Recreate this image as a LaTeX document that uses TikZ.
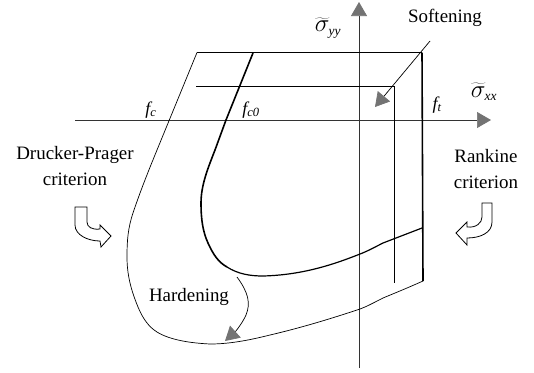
\documentclass[tikz,border=0pt]{standalone}
\usepackage{fontspec}
\setmainfont{Liberation Serif}
\usetikzlibrary{arrows.meta, calc}
\definecolor{tipgray}{gray}{0.45}
\begin{document}
\begin{tikzpicture}[x=1bp, y=-1bp, >={Triangle[length=14bp, width=16bp, fill=tipgray, color=tipgray]}, line width=0.7pt,
    rotulo/.style={font=\fontsize{19}{26.5}\selectfont, align=center, inner sep=0pt},
    simbolo/.style={font=\fontsize{18}{20}\selectfont, inner sep=0pt},
    tensor/.style={font=\fontsize{27}{29}\selectfont, inner sep=0pt},
    hueca/.style={line width=0.8pt, fill=white}]
  \useasboundingbox (0,0) rectangle (534,372);
  \coordinate (Otop) at (197,52.5);
  \coordinate (Rtop) at (422,52.5);
  \coordinate (Rbot) at (423,281);
  \coordinate (Itop) at (253,53);
  \coordinate (Iend) at (422,228);
  % ejes
  \coordinate (xizq) at (75,120);
  \coordinate (xder) at (491,120);
  \coordinate (yinf) at (359,368);
  \coordinate (ysup) at (359,2);
  \draw[->, draw=black!80] (xizq)--(xder);
  \draw[->, draw=black!80] (yinf)--(ysup);
  \node[tensor] (sxx) at (484,92) {$\widetilde{\sigma}_{\scriptscriptstyle\mathit{xx}}$};
  \node[tensor] (syy) at (328,28) {$\widetilde{\sigma}_{\scriptscriptstyle\mathit{yy}}$};
  % superficie exterior
  \draw (Rbot) .. controls (405,289) and (395,293) .. (383,298)
    .. controls (375,302) and (368,306) .. (360,309)
    .. controls (330,319) and (300,328) .. (270,335)
    .. controls (250,340) and (230,344) .. (210,344)
    .. controls (190,343) and (170,340) .. (157,332)
    .. controls (149,327) and (143,319) .. (138,307)
    .. controls (131,290) and (127,275) .. (127,257)
    .. controls (127,240) and (128,228) .. (133,213)
    .. controls (140,192) and (148,172) .. (157,150)
    -- (Otop);
  % superficie inicial
  \draw[line width=1.6pt] (Itop)--(226,120) -- (215,150)
    .. controls (208,168) and (201,185) .. (201,203)
    .. controls (201,220) and (203,232) .. (208,243)
    .. controls (213,254) and (218,262) .. (227,267);
  \draw[line width=1.2pt] (227,267) .. controls (238,274) and (250,276) .. (263,276)
    .. controls (300,275) and (330,266) .. (360,254)
    .. controls (368,251) and (375,247) .. (383,243)
    .. controls (396,238) and (409,233) .. (Iend);
  % limite de traccion
  \draw[line width=0.9pt] (Otop)--(Rtop);
  \draw[line width=1.6pt] (Rtop)--(Rbot);
  \coordinate (Atop) at (196,86);
  \coordinate (Acor) at (394,86);
  \coordinate (Abot) at (394,283);
  \draw (Atop)--(Acor)--(Abot);
  % flechas de evolucion
  \coordinate (Sini) at (430,41);
  \coordinate (Sfin) at (375,107);
  \draw[->] (Sini)--(Sfin);
  \coordinate (Hini) at (237,277);
  \coordinate (Hfin) at (225,341);
  \draw[->] (Hini) .. controls (248,292) and (251,303) .. (246,315) .. controls (242,324) and (235,332) .. (Hfin);
  % flechas huecas
  \draw[hueca] (75,207)--(87,207)--(87,222) .. controls (87,227) and (92,230) .. (100,229)
    --(100,225)--(111,236)--(101,247)--(100,241) .. controls (88,241) and (75,235) .. (75,225)--cycle;
  \draw[hueca] (492,203)--(482,203)--(482,217) .. controls (482,223) and (476,228) .. (467,227)
    --(467,222)--(456,233)--(467,245)--(467,238) .. controls (480,238) and (492,233) .. (492,222)--cycle;
  % textos
  \node[rotulo] (soft) at (445,18) {Softening};
  \node[rotulo] (rank) at (486,169) {Rankine\\criterion};
  \node[rotulo] (druck) at (75,166) {Drucker-Prager\\criterion};
  \node[rotulo] (hard) at (189,297) {Hardening};
  \node[simbolo] (fc) at (151,110) {$\mathit{f}_{\mathit{c}}$};
  \node[simbolo] (fco) at (251,110) {$\mathit{f}_{\mathit{c0}}$};
  \node[simbolo] (ft) at (437,105) {$\mathit{f}_{\mathit{t}}$};
\end{tikzpicture}
\end{document}
